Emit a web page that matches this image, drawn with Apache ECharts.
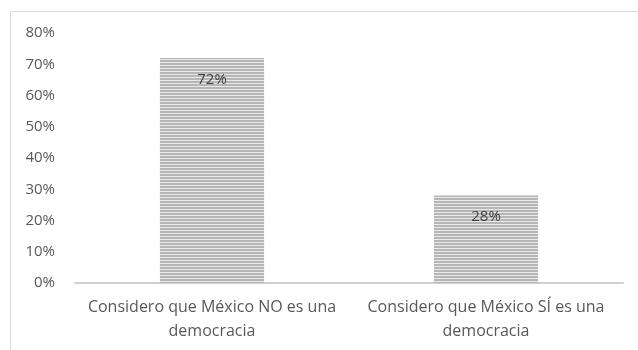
<!DOCTYPE html>
<html>
<head>
<meta charset="utf-8">
<script src="https://cdn.jsdelivr.net/npm/echarts@6/dist/echarts.min.js"></script>
<style>html,body{margin:0;padding:0;background:#fff;}#c{width:638px;height:350px;}</style>
</head>
<body>
<div id="c"></div>
<script>
const categories = ["Considero que México NO es una democracia", "Considero que México SÍ es una democracia"];
const values = [0.72, 0.28];
const yTicks = [0, 0.1, 0.2, 0.3, 0.4, 0.5, 0.6, 0.7, 0.8];

const pat = document.createElement('canvas');
pat.width = 4; pat.height = 3;
const pc = pat.getContext('2d');
pc.fillStyle = '#b6b6b6'; pc.fillRect(0, 0, 4, 2);
pc.fillStyle = '#e8e8e8'; pc.fillRect(0, 2, 4, 1);

const chart = echarts.init(document.getElementById('c'), null, {renderer: 'canvas'});
const font = '"Open Sans", sans-serif';
chart.setOption({
  animation: false,
  backgroundColor: '#fff',
  graphic: [{
    type: 'rect', silent: true,
    shape: {x: 10.5, y: 11.5, width: 700, height: 400},
    style: {fill: 'none', stroke: '#d9d9d9', lineWidth: 1}
  }],
  grid: {left: 75, right: 15, top: 33, bottom: 67},
  xAxis: {
    type: 'category',
    data: categories,
    axisLine: {lineStyle: {color: '#d0d0d0', width: 2}},
    axisTick: {show: false},
    axisLabel: {
      color: '#595959', fontFamily: font, fontSize: 16, lineHeight: 24, margin: 12,
      interval: 0,
      formatter: v => v.replace(' es una ', ' es una\n')
    }
  },
  yAxis: {
    type: 'value', min: 0, max: yTicks[yTicks.length - 1], interval: 0.1,
    splitLine: {show: false},
    axisLine: {show: false}, axisTick: {show: false},
    axisLabel: {
      color: '#595959', fontFamily: font, fontSize: 15, margin: 20,
      formatter: v => Math.round(v * 100) + '%'
    }
  },
  series: [{
    type: 'bar',
    data: values,
    barWidth: '38%',
    itemStyle: {color: {image: pat, repeat: 'repeat'}},
    label: {
      show: true, position: 'insideTop', distance: 14,
      color: '#404040', fontFamily: font, fontSize: 15,
      formatter: p => Math.round(p.value * 100) + '%'
    }
  }]
});
</script>
</body>
</html>
